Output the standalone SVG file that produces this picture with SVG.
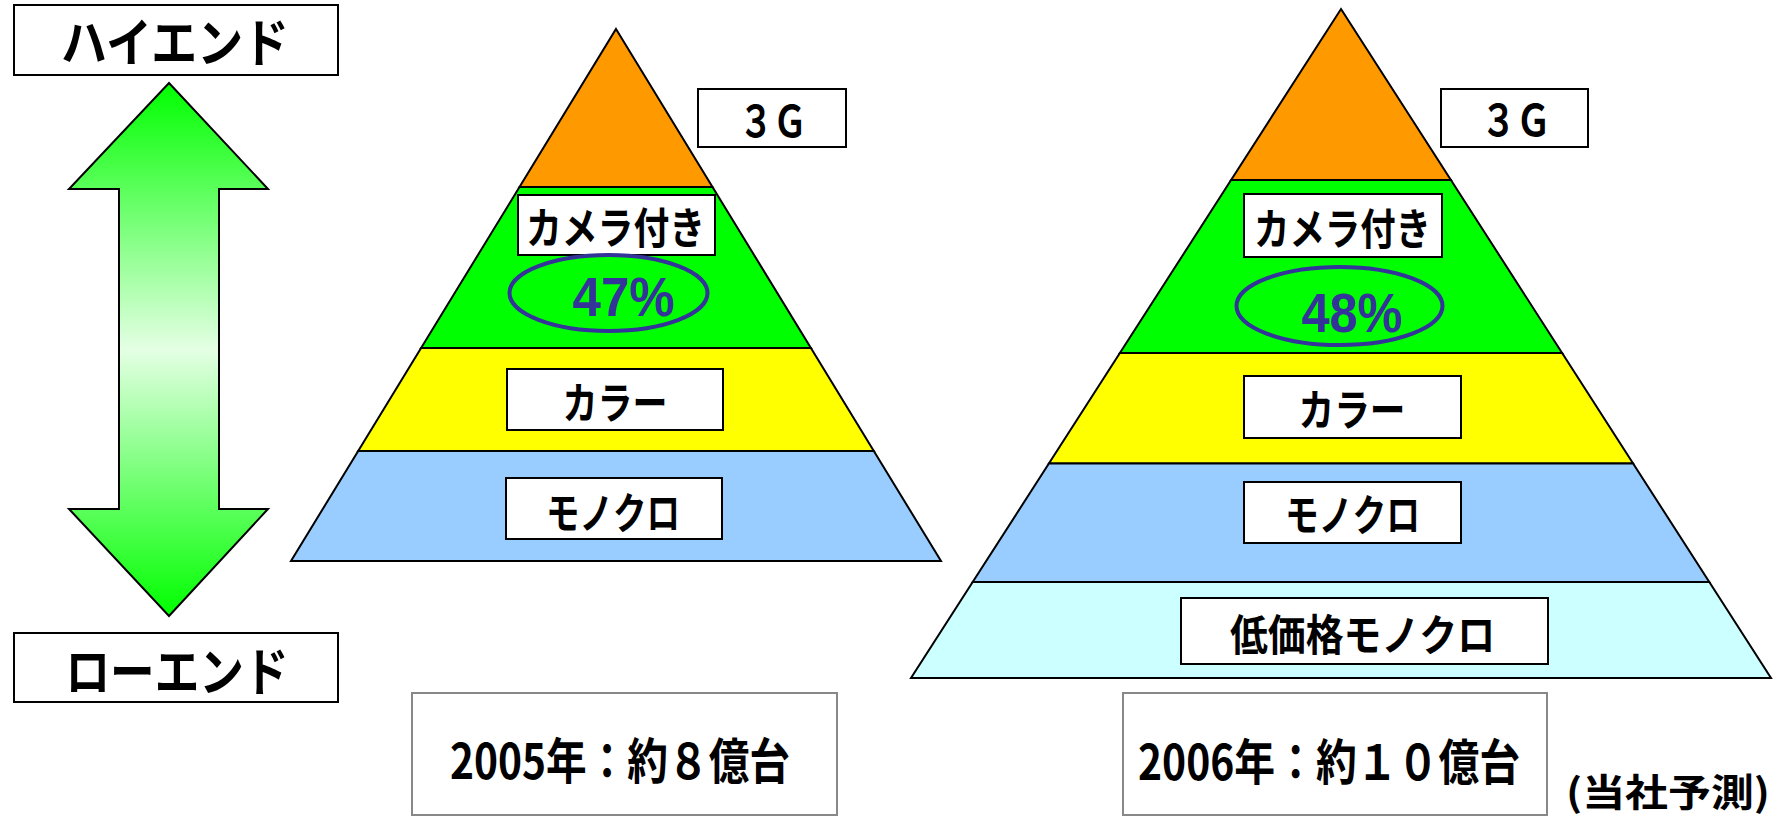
<svg xmlns="http://www.w3.org/2000/svg" width="1773" height="817" viewBox="0 0 1773 817">
  <defs>
    <linearGradient id="arrowGrad" x1="0" y1="0" x2="0" y2="1">
      <stop offset="0" stop-color="#00FF00"/>
      <stop offset="0.5" stop-color="#E4FFE4"/>
      <stop offset="1" stop-color="#00FF00"/>
    </linearGradient>
  </defs>
  <style>
    .bg { fill: #FFFFFF; }
    .layer { stroke: #000000; stroke-width: 2; stroke-linejoin: miter; }
    .orange { fill: #FF9900; }
    .green { fill: #00FF00; }
    .yellow { fill: #FFFF00; }
    .blue { fill: #99CCFF; }
    .cyan { fill: #CCFFFF; }
    .box { fill: #FFFFFF; stroke: #000000; stroke-width: 2; }
    .sumbox { fill: #FFFFFF; stroke: #888888; stroke-width: 2; }
    .lbl { font-family: "Noto Sans CJK JP", "Liberation Sans", sans-serif; font-weight: bold; fill: #000000; text-anchor: middle; }
    .big { font-size: 52px; }
    .mid { font-size: 43px; }
    .sum { font-family: "Noto Sans CJK JP", "Liberation Sans", sans-serif; font-weight: bold; font-size: 49px; fill: #000000; text-anchor: middle; }
    .pct { font-family: "Liberation Sans", "Noto Sans", sans-serif; font-weight: bold; font-size: 56px; fill: #333399; text-anchor: middle; }
    .ring { fill: none; stroke: #333399; stroke-width: 4; }
  </style>
  <rect class="bg" x="0" y="0" width="1773" height="817"/>

  <g id="high-end">
    <rect class="box" x="14" y="5" width="324" height="70"/>
    <text class="lbl big" x="175" y="61.5" textLength="228" lengthAdjust="spacingAndGlyphs">ハイエンド</text>
  </g>
  <g id="low-end">
    <rect class="box" x="14" y="633" width="324" height="69"/>
    <text class="lbl big" x="177" y="690.5" textLength="223" lengthAdjust="spacingAndGlyphs">ローエンド</text>
  </g>

  <g id="connectors">
    <path d="M169,83 L268,189 L219,189 L219,509 L268,509 L169,616 L69,509 L119,509 L119,189 L69,189 Z" fill="url(#arrowGrad)" stroke="#000000" stroke-width="2" stroke-linejoin="miter"/>
  </g>

  <g id="pyramid-2005">
    <polygon class="layer orange" points="616,29 712.5,187 519.5,187"/>
    <polygon class="layer green" points="519.5,187 712.5,187 810.9,348 421.1,348"/>
    <polygon class="layer yellow" points="421.1,348 810.9,348 873.8,451 358.2,451"/>
    <polygon class="layer blue" points="358.2,451 873.8,451 941,561 291,561"/>
  </g>
  <g id="l2005-3g">
    <rect class="box" x="698" y="89" width="148" height="58"/>
    <text class="lbl mid" x="773" y="137" font-size="42" textLength="68" lengthAdjust="spacingAndGlyphs">３Ｇ</text>
  </g>
  <g id="l2005-camera">
    <rect class="box" x="518" y="195" width="197" height="60"/>
    <text class="lbl mid" x="615.5" y="243.5" textLength="179" lengthAdjust="spacingAndGlyphs">カメラ付き</text>
  </g>
  <g id="l2005-pct">
    <ellipse class="ring" cx="608.5" cy="293" rx="99" ry="38"/>
    <text class="pct" x="623.6" y="316" textLength="102" lengthAdjust="spacingAndGlyphs">47%</text>
  </g>
  <g id="l2005-color">
    <rect class="box" x="507" y="369" width="216" height="61"/>
    <text class="lbl mid" x="615" y="419" textLength="105" lengthAdjust="spacingAndGlyphs">カラー</text>
  </g>
  <g id="l2005-mono">
    <rect class="box" x="506" y="478" width="216" height="61"/>
    <text class="lbl mid" x="613" y="528.5" textLength="134" lengthAdjust="spacingAndGlyphs">モノクロ</text>
  </g>
  <g id="total-2005">
    <rect class="sumbox" x="412" y="693" width="425" height="122"/>
    <text class="sum" x="620" y="779" textLength="340" lengthAdjust="spacingAndGlyphs">2005年：約８億台</text>
  </g>

  <g id="pyramid-2006">
    <polygon class="layer orange" points="1341,9 1450.9,180 1231.1,180"/>
    <polygon class="layer green" points="1231.1,180 1450.9,180 1562.1,353 1119.9,353"/>
    <polygon class="layer yellow" points="1119.9,353 1562.1,353 1633.1,463.5 1048.9,463.5"/>
    <polygon class="layer blue" points="1048.9,463.5 1633.1,463.5 1709.3,582 972.7,582"/>
    <polygon class="layer cyan" points="972.7,582 1709.3,582 1771,678 911,678"/>
  </g>
  <g id="r2006-3g">
    <rect class="box" x="1441" y="89" width="147" height="58"/>
    <text class="lbl mid" x="1516" y="136" font-size="42" textLength="70" lengthAdjust="spacingAndGlyphs">３Ｇ</text>
  </g>
  <g id="r2006-camera">
    <rect class="box" x="1244" y="194" width="198" height="63"/>
    <text class="lbl mid" x="1342.5" y="244.5" textLength="177" lengthAdjust="spacingAndGlyphs">カメラ付き</text>
  </g>
  <g id="r2006-pct">
    <ellipse class="ring" cx="1339.5" cy="306" rx="103" ry="39"/>
    <text class="pct" x="1352" y="331.7" textLength="101" lengthAdjust="spacingAndGlyphs">48%</text>
  </g>
  <g id="r2006-color">
    <rect class="box" x="1244" y="376" width="217" height="62"/>
    <text class="lbl mid" x="1352" y="426" textLength="107" lengthAdjust="spacingAndGlyphs">カラー</text>
  </g>
  <g id="r2006-mono">
    <rect class="box" x="1244" y="482" width="217" height="61"/>
    <text class="lbl mid" x="1352.5" y="531" textLength="135" lengthAdjust="spacingAndGlyphs">モノクロ</text>
  </g>
  <g id="r2006-lowmono">
    <rect class="box" x="1181" y="598" width="367" height="66"/>
    <text class="lbl mid" x="1362.5" y="651" textLength="265" lengthAdjust="spacingAndGlyphs">低価格モノクロ</text>
  </g>
  <g id="total-2006">
    <rect class="sumbox" x="1123" y="693" width="424" height="122"/>
    <text class="sum" x="1329" y="780" textLength="382" lengthAdjust="spacingAndGlyphs">2006年：約１０億台</text>
  </g>
  <g id="note">
    <text class="lbl" x="1668" y="806" font-size="38" textLength="204" lengthAdjust="spacingAndGlyphs">(当社予測)</text>
  </g>
</svg>
